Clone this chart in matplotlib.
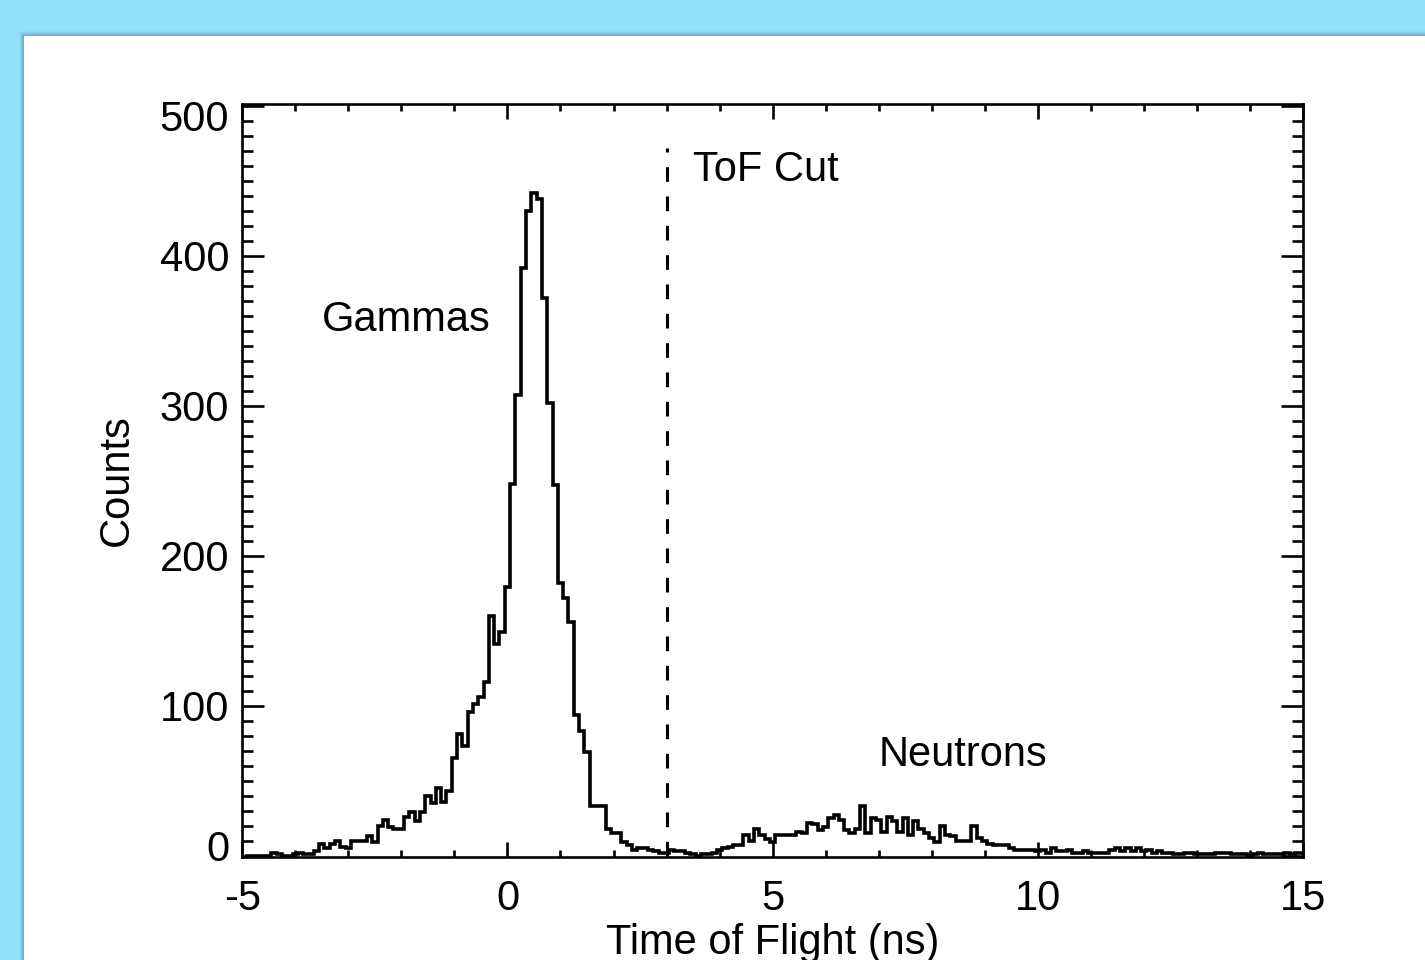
import numpy as np
import matplotlib.pyplot as plt
import matplotlib.transforms as mtransforms
from matplotlib.patches import Rectangle
from matplotlib.ticker import MultipleLocator

plt.rcParams['font.family'] = ['Liberation Sans', 'DejaVu Sans']
plt.rcParams['axes.unicode_minus'] = False

# time of flight histogram, 0.1 ns bins from -5 to 15 ns
tof_lo, tof_hi = -5.0, 15.0
bin_shift = 0.05  # steps drawn half a bin to the right
counts = [
    0, 0, 0, 0, 0, 2, 1, 0, 0, 1,
    2, 1, 1, 3, 8, 5, 8, 10, 6, 5,
    10, 10, 10, 13, 9, 20, 24, 19, 18, 18,
    26, 29, 23, 29, 40, 35, 45, 36, 43, 65,
    81, 73, 96, 101, 106, 116, 160, 141, 149, 179,
    248, 307, 392, 430, 442, 438, 372, 302, 247, 182,
    172, 156, 94, 83, 69, 33, 33, 33, 18, 15,
    15, 9, 7, 4, 5, 5, 4, 3, 2, 2,
    4, 3, 3, 2, 1, 0, 1, 1, 2, 4,
    5, 6, 7, 7, 14, 10, 18, 14, 11, 9,
    14, 14, 14, 14, 16, 15, 22, 21, 17, 19,
    25, 27, 24, 17, 15, 18, 33, 15, 25, 24,
    16, 26, 23, 16, 25, 14, 23, 18, 15, 12,
    9, 20, 14, 13, 10, 10, 10, 20, 12, 10,
    8, 7, 7, 7, 5, 4, 4, 4, 4, 3,
    4, 2, 5, 3, 3, 4, 2, 2, 3, 2,
    2, 2, 2, 4, 5, 3, 5, 3, 5, 3,
    4, 2, 3, 2, 2, 1, 1, 2, 2, 1,
    1, 1, 1, 2, 2, 2, 1, 1, 1, 0,
    1, 2, 1, 1, 1, 1, 2, 1, 2, 2,
]

# cut between gammas and neutrons
tof_cut = 3.0
cut_top = 472

# annotations (left edge, baseline)
notes = ['Gammas', 'ToF Cut', 'Neutrons']
note_x = [-3.5, 3.5, 7.0]
note_y = [350, 450, 60]

edges = np.linspace(tof_lo, tof_hi, len(counts) + 1) + bin_shift

W, H = 1425, 960
fig = plt.figure(figsize=(W / 100, H / 100), dpi=100)
fig.patch.set_facecolor('#93e2fb')

# white card with a soft shadow on the top/left edges
for off, a in [(5, 0.06), (4, 0.08), (3, 0.10), (2, 0.14), (1, 0.18)]:
    fig.add_artist(Rectangle(((24 - off) / W, 0), 1, (924 + off) / H,
                             transform=fig.transFigure, facecolor='#3d7386',
                             alpha=a, lw=0, zorder=-3))
fig.add_artist(Rectangle((24 / W, 0), 1, 924 / H, transform=fig.transFigure,
                         facecolor='white', lw=0, zorder=-2))

ax = fig.add_axes([242.3 / W, 1 - 856.5 / H, 1060.6 / W, 752.2 / H])
ax.set_facecolor('white')

ax.stairs(counts, edges, color='black', linewidth=2.6, baseline=0)
ax.vlines(tof_cut, 0, cut_top, colors='black', linewidth=2.2,
          linestyles=(0, (4.8, 4.8)))

for s, x, y in zip(notes, note_x, note_y):
    ax.text(x, y, s, fontsize=30, ha='left', va='baseline')

ax.set_xlim(tof_lo, tof_hi)
ax.set_ylim(-0.5, 501)
ax.set_xticks([-5, 0, 5, 10, 15])
ax.set_yticks([0, 100, 200, 300, 400, 500])
ax.xaxis.set_minor_locator(MultipleLocator(1))
ax.yaxis.set_minor_locator(MultipleLocator(10))

for sp in ax.spines.values():
    sp.set_linewidth(1.9)

ax.tick_params(which='both', direction='in', top=True, right=True,
               width=1.9, labelsize=30)
ax.tick_params(axis='x', which='major', length=10.8, pad=16.5)
ax.tick_params(axis='x', which='minor', length=5)
ax.tick_params(axis='y', which='major', length=15.8, pad=9.5)
ax.tick_params(axis='y', which='minor', length=8)

# end labels sit inside the axis range
ylabs = ax.get_yticklabels()
ylabs[0].set_transform(ylabs[0].get_transform() +
                       mtransforms.ScaledTranslation(0, 0.105, fig.dpi_scale_trans))
ylabs[-1].set_transform(ylabs[-1].get_transform() +
                        mtransforms.ScaledTranslation(0, -0.095, fig.dpi_scale_trans))

ax.set_xlabel('Time of Flight (ns)', fontsize=30)
ax.set_ylabel('Counts', fontsize=30)
ax.xaxis.set_label_coords(0.5, -0.088)
ax.yaxis.set_label_coords(-0.099, 0.5)

fig.savefig('out.png', dpi=100)
